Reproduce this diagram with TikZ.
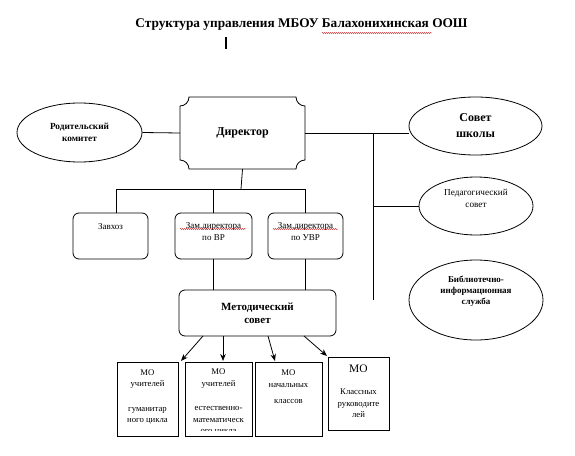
\documentclass[tikz,border=0pt]{standalone}
\usepackage{fontspec}
\setmainfont{Liberation Serif}
\usetikzlibrary{shapes.geometric,arrows.meta,decorations.pathmorphing}
\newcommand{\fs}[2]{\fontsize{#1}{#2}\selectfont}
\newcommand{\topbox}[4]{\parbox[c][#2][t]{#1}{\centering\rule{0pt}{#3}#4}}
\begin{document}
\begin{tikzpicture}[x=1pt,y=-1pt,
  every node/.style={inner sep=0pt},
  ell/.style={draw, ellipse, line width=0.8pt, align=center, inner sep=0pt},
  rbox/.style={draw, rounded corners=6pt, line width=0.8pt, inner sep=0pt},
  mobox/.style={draw, line width=0.8pt, inner sep=0pt},
  conn/.style={line width=0.8pt},
  arr/.style={line width=0.8pt, -{Stealth[length=7pt,width=5.5pt]}},
  squig/.style={red!80!black, line width=0.4pt, decorate, decoration={snake, amplitude=0.5pt, segment length=2pt}}
]
\fill[white] (0,0) rectangle (575,455);
\useasboundingbox (0,0) rectangle (575,455);

% title
\node[font=\bfseries\fs{13.3}{15}] (title) at (301.5,25) {Структура управления МБОУ Балахонихинская ООШ};
\draw[squig] (322,33) -- (432,33);
\draw[line width=1.6pt] (226,37) -- (226,49);

% director
\node[font=\bfseries\fs{12}{14}, minimum width=125pt, minimum height=72pt] (dir) at (242.5,133) {Директор};
\draw[line width=0.8pt] (180,106) arc[start angle=90,end angle=0,radius=9]
  -- (296,97) arc[start angle=180,end angle=90,radius=9]
  -- (305,160) arc[start angle=270,end angle=180,radius=9]
  -- (189,169) arc[start angle=0,end angle=-90,radius=9] -- cycle;

% ellipses
\node[ell, minimum width=125pt, minimum height=59pt, font=\bfseries\fs{9.3}{11.5}] (rk) at (79.5,132.5) {Родительский\\комитет};
\node[ell, minimum width=133pt, minimum height=58pt, font=\bfseries\fs{12}{16}] (sovet) at (475.5,126) {Совет\\школы};
\node[ell, minimum width=114pt, minimum height=58pt, font=\fs{9.2}{12}] (ped) at (476,206) {Педагогический\\совет\\[4pt]};
\node[ell, minimum width=134pt, minimum height=80pt, font=\bfseries\fs{9}{11}] (lib) at (476,300) {Библиотечно-\\информационная\\служба\\[8pt]};

% connectors top
\draw[conn] (rk.east) -- (dir.west);
\draw[conn] (dir.east) -- (dir.east -| sovet.west);
\coordinate (sp) at (373,133);
\coordinate (spend) at (373,300);
\draw[conn] (sp) -- (spend);
\draw[conn] (sp |- ped.west) -- (ped.west);

% second row
\node[rbox, font=\fs{9}{12}] (zav) at (110.5,236) {\topbox{75pt}{46pt}{16pt}{Завхоз}};
\node[rbox, font=\fs{9}{12}] (vr) at (213.5,236) {\topbox{77pt}{46pt}{15pt}{Зам.директора\\по ВР}};
\node[rbox, font=\fs{9}{12}] (uvr) at (305.5,236) {\topbox{75pt}{46pt}{15pt}{Зам.директора\\по УВР}};
\draw[squig] (180,229) -- (246,229);
\draw[squig] (273,229) -- (338,229);

\coordinate (hb) at (241,189);
\coordinate (zl) at (116,189);
\draw[conn] (dir.south) -- (hb);
\draw[conn] (zl) -- (uvr.north |- zl);
\draw[conn] (zl) -- (zl |- zav.north);
\draw[conn] (vr.north |- zl) -- (vr.north);
\draw[conn] (uvr.north |- zl) -- (uvr.north);

% methodical council
\node[rbox, minimum width=157pt, minimum height=46pt, align=center, font=\bfseries\fs{11}{13}] (met) at (257.5,313) {Методический\\совет};
\draw[conn] (vr.south) -- (vr.south |- met.north);
\draw[conn] (uvr.south) -- (uvr.south |- met.north);

% MO boxes
\node[mobox, font=\fs{8.7}{11.5}] (mo1) at (147.5,399) {\topbox{61pt}{74pt}{13pt}{МО\\учителей\\[13pt]гуманитар\\ного цикла}};
\node[mobox, minimum width=67pt, minimum height=74pt] (mo2) at (218.5,399) {};
\begin{scope}
\clip (mo2.north west) rectangle ([yshift=5.5pt]mo2.south east);
\node[anchor=north, font=\fs{8.7}{11.5}] (mo2t) at (mo2.north) {\topbox{67pt}{74pt}{13pt}{МО\\учителей\\[13pt]естественно-\\математическ\\ого цикла}};
\end{scope}
\node[mobox, font=\fs{8.7}{11.5}] (mo3) at (288.5,399) {\topbox{67pt}{74pt}{13pt}{МО\\[1pt]начальных\\[4pt]классов}};
\node[mobox, font=\fs{8.7}{11.5}] (mo4) at (358.5,393.5) {\topbox{61pt}{73pt}{15pt}{{\fs{11.5}{13}МО}\\[11pt]Классных\\руководите\\лей}};

% arrows
\coordinate (a1s) at (203,336); \coordinate (a1e) at (181,361);
\coordinate (a2s) at (223,336); \coordinate (a2e) at (223,361);
\coordinate (a3s) at (268,336); \coordinate (a3e) at (275,361);
\coordinate (a4s) at (304,336); \coordinate (a4e) at (327,356);
\draw[arr] (a1s) -- (a1e);
\draw[arr] (a2s) -- (a2e);
\draw[arr] (a3s) -- (a3e);
\draw[arr] (a4s) -- (a4e);
\end{tikzpicture}
\end{document}
